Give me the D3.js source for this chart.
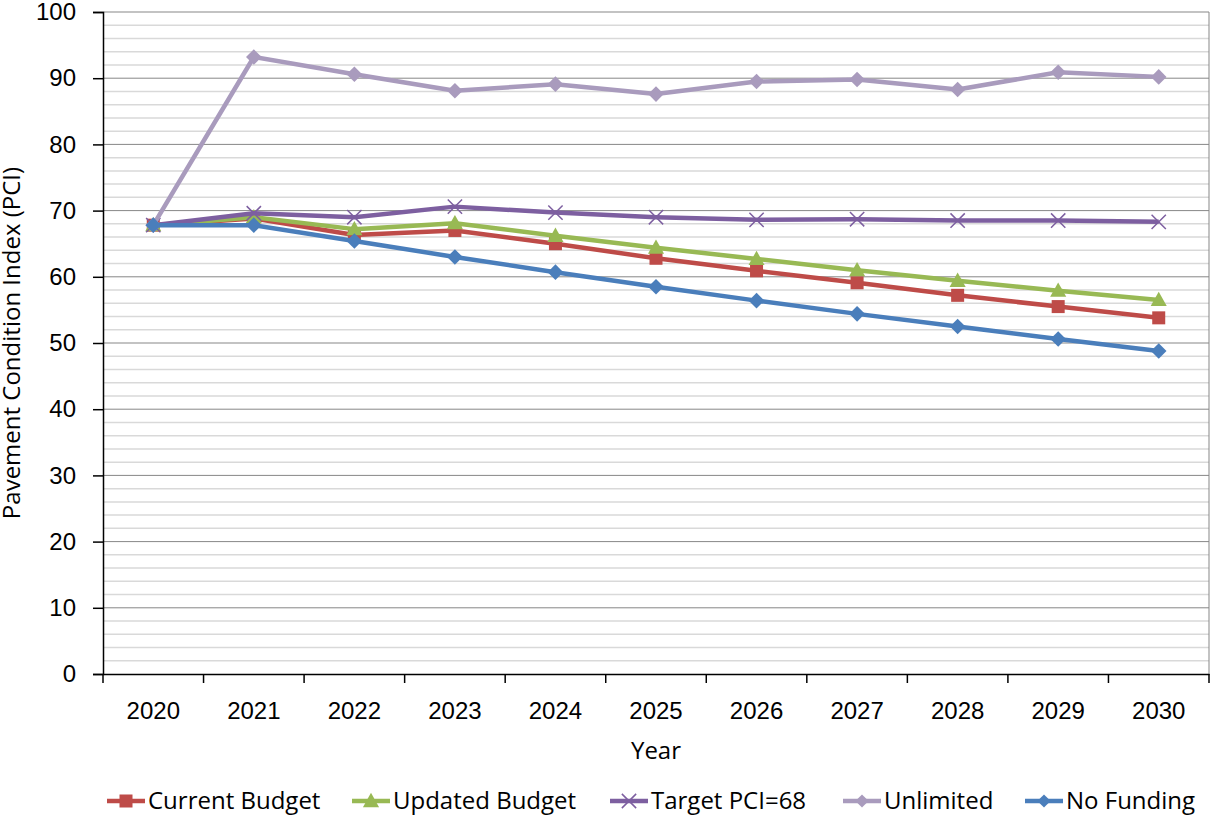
<!DOCTYPE html>
<html>
<head>
<meta charset="utf-8">
<script src="https://cdn.jsdelivr.net/npm/d3@7"></script>
<style>
  body { margin: 0; background: #fff; }
  svg { display: block; font-family: "Open Sans", "Noto Sans", sans-serif; }
</style>
</head>
<body>
<svg id="chart" width="1211" height="817"></svg>
<script>
// --- Data ---
const years = ["2020", "2021", "2022", "2023", "2024", "2025", "2026", "2027", "2028", "2029", "2030"];
const currentBudget = [67.8, 68.8, 66.3, 67.0, 65.0, 62.8, 60.9, 59.1, 57.2, 55.5, 53.8];
const updatedBudget = [67.8, 69.0, 67.2, 68.1, 66.2, 64.4, 62.7, 61.0, 59.4, 57.9, 56.5];
const targetPci = [67.8, 69.6, 69.0, 70.6, 69.7, 69.0, 68.6, 68.7, 68.5, 68.5, 68.3];
const unlimited = [67.8, 93.2, 90.6, 88.1, 89.1, 87.6, 89.5, 89.8, 88.3, 90.9, 90.2];
const noFunding = [67.8, 67.8, 65.4, 63.0, 60.7, 58.5, 56.4, 54.4, 52.5, 50.6, 48.8];
const yTicks = [0, 10, 20, 30, 40, 50, 60, 70, 80, 90, 100];

const series = [
    { name: "Current Budget", values: currentBudget, color: "#BE4B48", marker: "square" },
    { name: "Updated Budget", values: updatedBudget, color: "#98B954", marker: "triangle" },
    { name: "Target PCI=68", values: targetPci, color: "#7D5FA0", marker: "cross" },
    { name: "Unlimited", values: unlimited, color: "#A99BBD", marker: "diamond" },
    { name: "No Funding", values: noFunding, color: "#4A7EBB", marker: "diamond" }
];

// --- Layout ---
const plotL = 103, plotR = 1209, plotT = 12, plotB = 674;
const fontSize = "24px";
const svg = d3.select("#chart");

const x = d3.scaleBand().domain(years).range([plotL, plotR]);
const y = d3.scaleLinear().domain([0, 100]).range([plotB, plotT]);

// minor gridlines every 2
svg.append("g").selectAll("line")
    .data(d3.range(2, 100, 2).filter(v => v % 10 !== 0))
    .enter().append("line")
    .attr("x1", plotL).attr("x2", plotR)
    .attr("y1", d => y(d)).attr("y2", d => y(d))
    .attr("stroke", "#d9d9d9").attr("stroke-width", 1.5);

// major gridlines
svg.append("g").selectAll("line")
    .data(yTicks.filter(v => v > 0))
    .enter().append("line")
    .attr("x1", plotL).attr("x2", plotR)
    .attr("y1", d => y(d)).attr("y2", d => y(d))
    .attr("stroke", "#878787").attr("stroke-width", 1);

// right border
svg.append("line")
    .attr("x1", plotR).attr("x2", plotR).attr("y1", plotT).attr("y2", plotB)
    .attr("stroke", "#878787");

// y axis
const yAxis = svg.append("g")
    .attr("transform", `translate(${plotL},0)`)
    .call(d3.axisLeft(y).tickValues(yTicks).tickSize(10).tickPadding(17));
yAxis.select(".domain").attr("stroke", "#000").attr("stroke-width", 1.5);
yAxis.selectAll(".tick line").attr("stroke", "#000").attr("stroke-width", 1.5);
yAxis.selectAll("text").style("font-size", fontSize).attr("fill", "#000");

// x axis with ticks at band boundaries
const xAxis = svg.append("g")
    .attr("transform", `translate(0,${plotB})`)
    .call(d3.axisBottom(x).tickSize(0).tickPadding(28));
xAxis.select(".domain").attr("stroke", "#000").attr("stroke-width", 1.5);
xAxis.selectAll("text").style("font-size", fontSize).attr("fill", "#000");
xAxis.selectAll(".bound").data(d3.range(years.length + 1))
    .enter().append("line")
    .attr("x1", i => plotL + i * x.step()).attr("x2", i => plotL + i * x.step())
    .attr("y1", 0).attr("y2", 9)
    .attr("stroke", "#000").attr("stroke-width", 1.5);

// axis titles
svg.append("text")
    .attr("transform", `translate(20,${(plotT + plotB) / 2}) rotate(-90)`)
    .attr("text-anchor", "middle")
    .style("font-size", fontSize)
    .text("Pavement Condition Index (PCI)");

svg.append("text")
    .attr("x", (plotL + plotR) / 2).attr("y", 759)
    .attr("text-anchor", "middle")
    .style("font-size", fontSize)
    .text("Year");

// marker drawing
function drawMarker(g, type, color, size) {
    if (type === "square") {
        g.append("rect").attr("x", -size / 2).attr("y", -size / 2)
            .attr("width", size).attr("height", size).attr("fill", color);
    } else if (type === "triangle") {
        const h = size * 1.05;
        g.append("path").attr("d", `M0,${-h * 0.6}L${size * 0.62},${h * 0.45}L${-size * 0.62},${h * 0.45}Z`)
            .attr("fill", color);
    } else if (type === "diamond") {
        const r = size * 0.6;
        g.append("path").attr("d", `M0,${-r}L${r},0L0,${r}L${-r},0Z`).attr("fill", color);
    } else if (type === "cross") {
        const r = size * 0.55;
        g.append("path").attr("d", `M${-r},${-r}L${r},${r}M${-r},${r}L${r},${-r}`)
            .attr("stroke", color).attr("stroke-width", 1.5).attr("fill", "none");
    }
}

const line = d3.line()
    .x((d, i) => x(years[i]) + x.bandwidth() / 2)
    .y(d => y(d));

// series
series.forEach(s => {
    const g = svg.append("g");
    g.append("path")
        .attr("d", line(s.values))
        .attr("fill", "none")
        .attr("stroke", s.color)
        .attr("stroke-width", 4.5)
        .attr("stroke-linejoin", "round");
    s.values.forEach((v, i) => {
        const m = g.append("g")
            .attr("transform", `translate(${x(years[i]) + x.bandwidth() / 2},${y(v)})`);
        drawMarker(m, s.marker, s.color, 13);
    });
});

// legend
const legendX = [107, 352, 610, 843, 1025];
series.forEach((s, i) => {
    const g = svg.append("g").attr("transform", `translate(${legendX[i]},801)`);
    g.append("line").attr("x1", 0).attr("x2", 38).attr("y1", 0).attr("y2", 0)
        .attr("stroke", s.color).attr("stroke-width", 4.5);
    const msize = s.marker === "diamond" ? 11 : 13;
    drawMarker(g.append("g").attr("transform", "translate(19,0)"), s.marker, s.color, msize);
    g.append("text").attr("x", 41).attr("y", 0).attr("dy", "0.35em")
        .style("font-size", fontSize)
        .text(s.name);
});
</script>
</body>
</html>
